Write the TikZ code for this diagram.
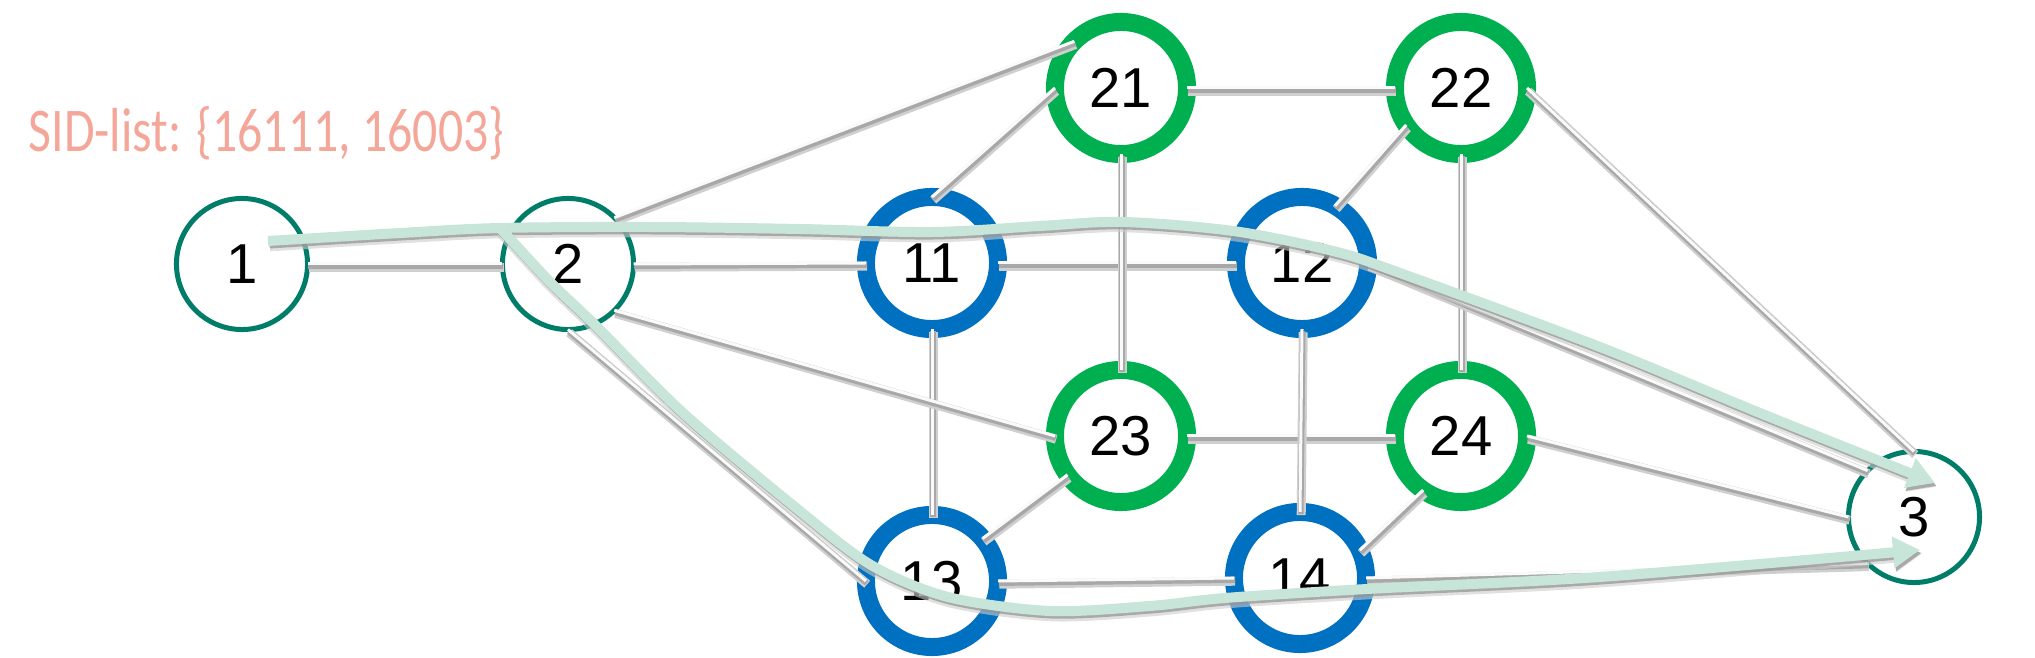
\documentclass[tikz,border=0pt]{standalone}
\usepackage{fontspec}
\setmainfont{Liberation Sans}
\newfontfamily\sidfont[FakeStretch=0.8]{Carlito}
\usetikzlibrary{arrows.meta}
\definecolor{tealring}{RGB}{0,125,104}
\definecolor{bluering}{RGB}{0,112,192}
\definecolor{greenring}{RGB}{0,176,80}
\definecolor{mint}{RGB}{200,229,217}
\definecolor{salmon}{RGB}{244,167,153}
\begin{document}
\begin{tikzpicture}[x=0.01cm,y=-0.01cm,
  every node/.style={font=\fontsize{16}{19}\selectfont},
  thinring/.style={circle, draw=tealring, line width=0.05cm, fill=white, minimum size=1.31cm, inner sep=0pt, outer sep=0pt},
  bluenode/.style={circle, draw=bluering, line width=0.18cm, fill=white, minimum size=1.32cm, inner sep=0pt, outer sep=0pt},
  greennode/.style={circle, draw=greenring, line width=0.18cm, fill=white, minimum size=1.32cm, inner sep=0pt, outer sep=0pt},
  link/.style={draw=white!96!gray, line width=0.03cm,
    preaction={draw=gray!38, line width=0.09cm, transform canvas={shift={(0.012cm,-0.032cm)}}},
    preaction={draw=gray!68, line width=0.055cm, transform canvas={shift={(0.008cm,-0.022cm)}}}},
  route/.style={draw=mint, line width=0.1cm, line join=round,
    -{Triangle[length=0.27cm,width=0.3cm]},
    preaction={draw=gray!40, draw opacity=0.6, line width=0.13cm, transform canvas={shift={(0.018cm,-0.038cm)}}},
    preaction={draw=gray!85, draw opacity=0.7, fill opacity=0.7, line width=0.09cm, transform canvas={shift={(0.015cm,-0.03cm)}}}},
]
\useasboundingbox (0,0) rectangle (2035,658);

% label
\node[anchor=base west, inner sep=0pt, text=salmon, font=\sidfont\fontsize{17.7}{20}\selectfont] (sid) at (28,152) {SID-list: \{16111, 16003\}};

% nodes
\node[thinring] (n1) at (242,264) {1};
\node[thinring] (n2) at (568,264) {2};
\node[thinring] (n3) at (1914,517) {3};
\node[bluenode] (n11) at (932,263) {11};
\node[bluenode] (n12) at (1302,263) {12};
\node[bluenode] (n13) at (932,581) {13};
\node[bluenode] (n14) at (1300,578) {14};
\node[greennode] (n21) at (1121,88) {21};
\node[greennode] (n22) at (1461,88) {22};
\node[greennode] (n23) at (1121,436) {23};
\node[greennode] (n24) at (1461,436) {24};

% links
\draw[link] (n1.east) -- (n2.west);
\draw[link] (n2.east) -- (n11.west);
\draw[link] (n11.east) -- (n12.west);
\draw[link] (n21.east) -- (n22.west);
\draw[link] (n23.east) -- (n24.west);
\draw[link] (n13.east) -- (n14.west);
\draw[link] (n11.south) -- (n13.north);
\draw[link] (n21.south) -- (n23.north);
\draw[link] (n12.south) -- (n14.north);
\draw[link] (n22.south) -- (n24.north);
\draw[link] (n2.45) -- (n21.135);
\draw[link] (n11.north) -- (n21.west);
\draw[link] (n12.60) -- (n22.214);
\draw[link] (n2.-45) -- (n23.west);
\draw[link] (n2.south) -- (n13.west);
\draw[link] (n13.40) -- (n23.216);
\draw[link] (n14.25) -- (n24.235);
\draw[link] (n22.east) -- (n3.north);
\draw[link] (n24.east) -- (n3.west);
\draw[link] (n12.east) -- (n3.135);
\draw[link] (n14.east) -- (n3.-135);

% routes
\coordinate (startA) at (268,241);
\coordinate (branch) at (500,228);
\coordinate (tipA) at (1935,483);
\coordinate (tipB) at (1920,550);
\draw[route] plot[smooth, tension=0.55] coordinates {(268,241) (400,233) (500,228) (650,227) (800,229) (932,232) (1040,226) (1123,222) (1233,231) (1333,251) (1400,273) (1600,347) (1760,413) (1935,483)};
\draw[route] plot[smooth, tension=0.5] coordinates {(500,228) (548,280) (595,325) (682,412) (795,507) (871,565) (948,597) (1050,611) (1150,606) (1225,598) (1367,589) (1600,577) (1920,550)};
\end{tikzpicture}
\end{document}
